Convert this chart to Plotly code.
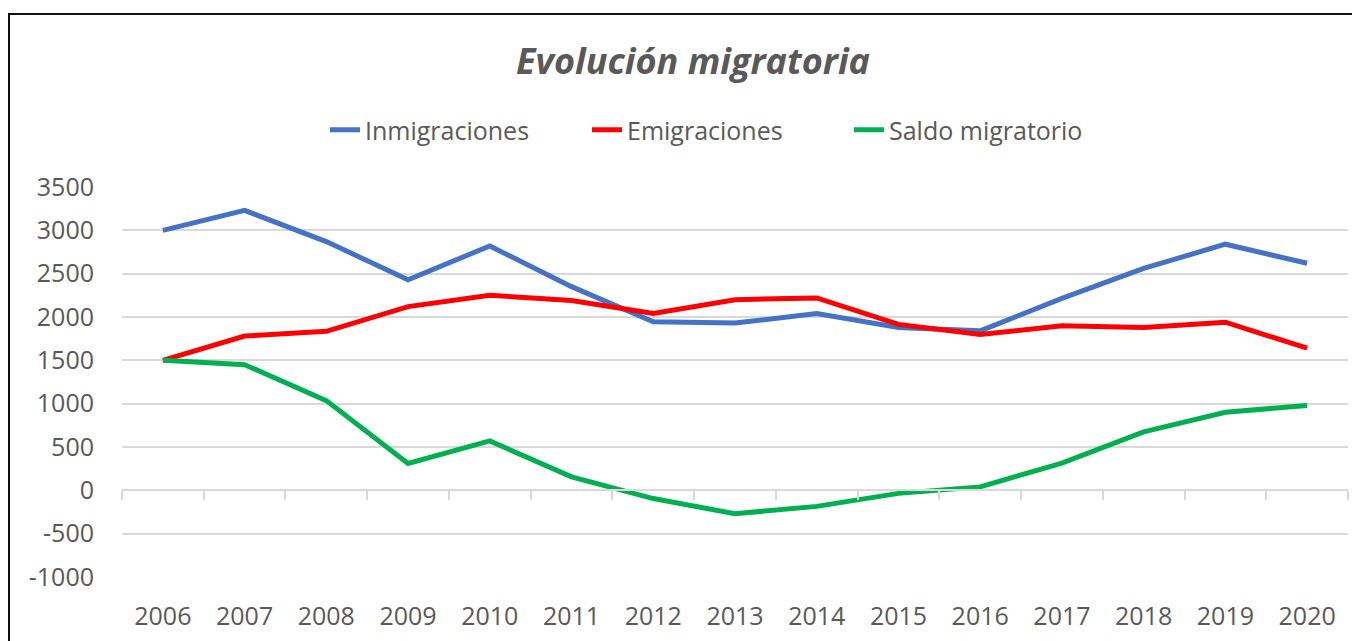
import plotly.graph_objects as go

# ------------------------------------------------------------
# data
# ------------------------------------------------------------
years = ["2006", "2007", "2008", "2009", "2010", "2011", "2012", "2013",
         "2014", "2015", "2016", "2017", "2018", "2019", "2020"]

inmigraciones = [3000, 3230, 2870, 2430, 2820, 2350, 1945, 1930,
                 2040, 1880, 1840, 2215, 2560, 2840, 2620]
emigraciones = [1500, 1780, 1835, 2120, 2250, 2190, 2040, 2200,
                2220, 1915, 1797, 1900, 1880, 1940, 1640]
saldo_migratorio = [1500, 1450, 1035, 310, 570, 155, -95, -270,
                    -185, -35, 40, 315, 675, 900, 980]

y_ticks = [3500, 3000, 2500, 2000, 1500, 1000, 500, 0, -500, -1000]
y_tick_labels = ["3500", "3000", "2500", "2000", "1500", "1000", "500",
                 "0", "-500", "-1000"]

TEXT = "#595959"
GRID = "#d9d9d9"
FONT = "Open Sans"

fig = go.Figure()

fig.add_trace(go.Scatter(x=years, y=inmigraciones, name="Inmigraciones",
                         mode="lines", line=dict(color="#4472C4", width=5)))
fig.add_trace(go.Scatter(x=years, y=emigraciones, name="Emigraciones",
                         mode="lines", line=dict(color="#FF0000", width=5)))
# saldo sits on the helper x-axis that draws the axis line at y=0
fig.add_trace(go.Scatter(x=years, y=saldo_migratorio, name="Saldo migratorio",
                         mode="lines", line=dict(color="#00B050", width=5),
                         xaxis="x2"))

# the page body adds an 8px offset, so screen positions are shifted by 8
OFF = 8
W, H = 1360, 641
L, R, T, B = 122 - OFF, 20, 187 - OFF, 72
plot_w = W - L - R
plot_h = H - T - B
zero_pos = (577 - 490) / plot_h

fig.update_layout(
    width=W, height=H,
    margin=dict(l=L, r=R, t=T, b=B),
    paper_bgcolor="white",
    plot_bgcolor="white",
    font=dict(family=FONT, color=TEXT, size=25),
    title=dict(text="<b><i>Evolución migratoria</i></b>",
               x=(693 - OFF) / W, xref="container", xanchor="center",
               y=1 - (61 - OFF) / H, yref="container", yanchor="middle",
               font=dict(family=FONT, size=36, color=TEXT)),
    showlegend=True,
    legend=dict(orientation="h", x=(718 - OFF - L) / plot_w, xanchor="center",
                y=(577 - 130) / plot_h, yanchor="middle",
                entrywidth=217,
                font=dict(family=FONT, size=25, color=TEXT),
                bgcolor="rgba(0,0,0,0)"),
    xaxis=dict(type="category", categoryorder="array", categoryarray=years,
               range=[-0.5, len(years) - 0.5], showgrid=False, showline=False,
               ticks="", ticklabelstandoff=22, zeroline=False,
               tickfont=dict(size=25, color=TEXT)),
    xaxis2=dict(type="category", categoryorder="array", categoryarray=years,
                overlaying="x", anchor="free", position=zero_pos, side="bottom",
                range=[-0.5, len(years) - 0.5], showgrid=False,
                showline=True, linecolor=GRID, linewidth=1.5,
                ticks="outside", tickson="boundaries", ticklen=9,
                tickcolor=GRID, tickwidth=1.5, showticklabels=False),
    yaxis=dict(range=[-1000, 3500], tickvals=y_ticks, ticktext=y_tick_labels,
               showgrid=True, gridcolor=GRID, gridwidth=1.5, zeroline=False,
               showline=False, ticks="", ticklabelstandoff=27,
               tickfont=dict(size=25, color=TEXT)),
)

# outer chart border (only top and left edges fall inside the frame)
fig.add_shape(type="rect", xref="paper", yref="paper",
              x0=(9 - OFF - L) / plot_w, x1=1.2,
              y0=-0.5, y1=(577 - 14) / plot_h,
              line=dict(color="#111111", width=2), layer="below")

fig.write_html("out.html")
